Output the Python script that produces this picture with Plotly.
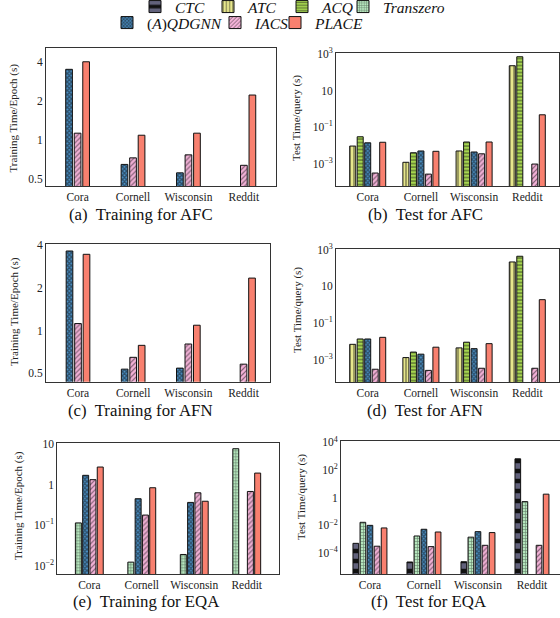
import plotly.graph_objects as go

datasets = ["Cora", "Cornell", "Wisconsin", "Reddit"]

# (a) Training for AFC
afc_train_qdgnn = [3.5, 0.65, 0.56, None]
afc_train_iacs = [1.13, 0.73, 0.77, 0.64]
afc_train_place = [4.0, 1.09, 1.13, 2.22]
# (b) Test for AFC
afc_test_atc = [0.0093, 0.0012, 0.005, 234]
afc_test_acq = [0.03, 0.004, 0.0155, 725]
afc_test_qdgnn = [0.014, 0.005, 0.0044, None]
afc_test_iacs = [0.00031, 0.00027, 0.0035, 0.00096]
afc_test_place = [0.015, 0.0048, 0.0155, 0.48]
# (c) Training for AFN
afn_train_qdgnn = [3.63, 0.535, 0.544, None]
afn_train_iacs = [1.12, 0.648, 0.804, 0.58]
afn_train_place = [3.44, 0.787, 1.09, 2.34]
# (d) Test for AFN
afn_test_atc = [0.0069, 0.0013, 0.0044, 218]
afn_test_acq = [0.0135, 0.0026, 0.009, 447]
afn_test_qdgnn = [0.0135, 0.002, 0.004, None]
afn_test_iacs = [0.0003, 0.00026, 0.00034, 0.00034]
afn_test_place = [0.0166, 0.0048, 0.0075, 1.9]
# (e) Training for EQA
eqa_train_transzero = [0.114, 0.0123, 0.019, 7.7]
eqa_train_qdgnn = [1.7, 0.45, 0.365, None]
eqa_train_iacs = [1.33, 0.178, 0.63, 0.68]
eqa_train_place = [2.72, 0.84, 0.39, 1.93]
# (f) Test for EQA
eqa_test_ctc = [0.0005, 0.0000224, 0.0000234, 650]
eqa_test_transzero = [0.0166, 0.0017, 0.0014, 0.52]
eqa_test_qdgnn = [0.01, 0.0052, 0.0035, None]
eqa_test_iacs = [0.00031, 0.00029, 0.00036, 0.00036]
eqa_test_place = [0.0065, 0.0033, 0.003, 1.8]

methods = ["CTC", "ATC", "ACQ", "Transzero", "(A)QDGNN", "IACS", "PLACE"]
legend_labels = {"CTC": "<i>CTC</i>", "ATC": "<i>ATC</i>", "ACQ": "<i>ACQ</i>",
                 "Transzero": "<i>Transzero</i>", "(A)QDGNN": "(<i>A</i>)<i>QDGNN</i>",
                 "IACS": "<i>IACS</i>", "PLACE": "<i>PLACE</i>"}

styles = {
    "CTC": dict(color="#b4b4e8", pattern=dict(shape="-", fgcolor="#b4b4e8", bgcolor="#111111", size=10, solidity=0.55)),
    "ATC": dict(color="#ffff99", pattern=dict(shape="|", fgcolor="#3a3a2a", bgcolor="#ffff99", size=4, solidity=0.62)),
    "ACQ": dict(color="#a6d64f", pattern=dict(shape="-", fgcolor="#1a1a1a", bgcolor="#a6d64f", size=3.5, solidity=0.4)),
    "Transzero": dict(color="#b5e6bd", pattern=dict(shape="+", fgcolor="#1a1a1a", bgcolor="#b5e6bd", size=3, solidity=0.35)),
    "(A)QDGNN": dict(color="#4a8fc4", pattern=dict(shape="x", fgcolor="#111111", bgcolor="#4a8fc4", size=3, solidity=0.68)),
    "IACS": dict(color="#f2b0d6", pattern=dict(shape="/", fgcolor="#1a1a1a", bgcolor="#f2b0d6", size=3.5, solidity=0.35)),
    "PLACE": dict(color="#f8806f", pattern=None),
}

W, H = 560, 618

def px(x):
    return x / W

def py(y):
    return 1 - y / H

panels = [
    ("", (46, 276), (48, 186), (-0.57, 3.58), (-0.353, 0.708), 0.154, 0.121,
     [("(A)QDGNN", afc_train_qdgnn), ("IACS", afc_train_iacs), ("PLACE", afc_train_place)],
     ([0.5, 1, 2, 4], ["0.5", "1", "2", "4"])),
    ("2", (336, 559), (53.3, 186), (-0.596, 3.596), (-4.22, 3.05), 0.141, 0.113,
     [("ATC", afc_test_atc), ("ACQ", afc_test_acq), ("(A)QDGNN", afc_test_qdgnn), ("IACS", afc_test_iacs), ("PLACE", afc_test_place)],
     ([1e-3, 1e-1, 10, 1e3], ["10<sup>−3</sup>", "10<sup>−1</sup>", "10", "10<sup>3</sup>"])),
    ("3", (46, 270), (244.3, 381.7), (-0.58, 3.48), (-0.36, 0.607), 0.154, 0.121,
     [("(A)QDGNN", afn_train_qdgnn), ("IACS", afn_train_iacs), ("PLACE", afn_train_place)],
     ([0.5, 1, 2, 4], ["0.5", "1", "2", "4"])),
    ("4", (336, 559), (249.3, 382), (-0.596, 3.596), (-4.22, 3.03), 0.141, 0.113,
     [("ATC", afn_test_atc), ("ACQ", afn_test_acq), ("(A)QDGNN", afn_test_qdgnn), ("IACS", afn_test_iacs), ("PLACE", afn_test_place)],
     ([1e-3, 1e-1, 10, 1e3], ["10<sup>−3</sup>", "10<sup>−1</sup>", "10", "10<sup>3</sup>"])),
    ("5", (57.3, 279), (443.3, 574.3), (-0.61, 3.615), (-2.21, 1.02), 0.139, 0.114,
     [("Transzero", eqa_train_transzero), ("(A)QDGNN", eqa_train_qdgnn), ("IACS", eqa_train_iacs), ("PLACE", eqa_train_place)],
     ([1e-2, 1e-1, 1, 10], ["10<sup>−2</sup>", "10<sup>−1</sup>", "1", "10"])),
    ("6", (341, 559.5), (441, 574.3), (-0.536, 3.51), (-5.54, 4.1), 0.131, 0.105,
     [("CTC", eqa_test_ctc), ("Transzero", eqa_test_transzero), ("(A)QDGNN", eqa_test_qdgnn), ("IACS", eqa_test_iacs), ("PLACE", eqa_test_place)],
     ([1e-4, 1e-2, 1, 1e2, 1e4], ["10<sup>−4</sup>", "10<sup>−2</sup>", "1", "10<sup>2</sup>", "10<sup>4</sup>"])),
]

legend_ids = {m: ("legend" if i == 0 else f"legend{i+1}") for i, m in enumerate(methods)}
shown = set()

fig = go.Figure()
font_family = "Liberation Serif, DejaVu Serif, serif"

for suffix, (x0, x1), (y0, y1), xr, yr, slot, bw, series, (tv, tt) in panels:
    n = len(series)
    for k, (name, vals) in enumerate(series):
        st = styles[name]
        marker = dict(color=st["color"], line=dict(color="#111111", width=1))
        if st["pattern"] is not None:
            marker["pattern"] = st["pattern"]
        off = (k - (n - 1) / 2) * slot - bw / 2
        fig.add_trace(go.Bar(
            x=datasets, y=vals, name=legend_labels[name], marker=marker,
            width=bw, offset=off,
            xaxis="x" + suffix, yaxis="y" + suffix,
            legend=legend_ids[name], legendgroup=name,
            showlegend=name not in shown,
        ))
        shown.add(name)
    xa = dict(domain=[px(x0), px(x1)], range=list(xr), type="category",
              anchor="y" + suffix, showline=True, mirror=True, linecolor="#333333",
              linewidth=1, showgrid=False, ticks="", zeroline=False,
              tickfont=dict(family=font_family, size=11.5, color="#222222"))
    ya = dict(domain=[py(y1), py(y0)], range=list(yr), type="log",
              anchor="x" + suffix, showline=True, mirror=True, linecolor="#333333",
              linewidth=1, showgrid=False, ticks="", zeroline=False,
              tickvals=tv, ticktext=tt,
              tickfont=dict(family=font_family, size=11.5, color="#222222"))
    fig.layout["xaxis" + suffix] = xa
    fig.layout["yaxis" + suffix] = ya

legend_pos = {
    "CTC": (135, 7), "ATC": (208, 7), "ACQ": (282, 7), "Transzero": (343, 7),
    "(A)QDGNN": (107, 23), "IACS": (215, 23), "PLACE": (275, 23),
}
for m in methods:
    lx, ly = legend_pos[m]
    fig.layout[legend_ids[m]] = dict(
        x=px(lx), y=py(ly), xanchor="left", yanchor="middle",
        orientation="h", bgcolor="rgba(0,0,0,0)", borderwidth=0,
        font=dict(family=font_family, size=15.5, color="#111111"),
        itemclick=False, itemdoubleclick=False, tracegroupgap=0,
    )

annotations = []
captions = [
    ("(a)  Training for AFC", 140.5, 215), ("(b)  Test for AFC", 425, 215),
    ("(c)  Training for AFN", 140.5, 410), ("(d)  Test for AFN", 425, 410),
    ("(e)  Training for EQA", 145.5, 601.7), ("(f)  Test for EQA", 428.5, 601.7),
]
for t, cx, cy in captions:
    annotations.append(dict(text=t, x=px(cx), y=py(cy), xref="paper", yref="paper",
                            showarrow=False, xanchor="center", yanchor="middle",
                            font=dict(family=font_family, size=16.8, color="#111111")))
ytitles = [
    ("Training Time/Epoch (s)", 13, 118.5), ("Test Time/query (s)", 296.5, 118.5),
    ("Training Time/Epoch (s)", 14, 312), ("Test Time/query (s)", 297, 310),
    ("Training Time/Epoch (s)", 18, 506), ("Test Time/query (s)", 301.5, 497.5),
]
for t, cx, cy in ytitles:
    annotations.append(dict(text=t, x=px(cx), y=py(cy), xref="paper", yref="paper",
                            showarrow=False, xanchor="center", yanchor="middle", textangle=-90,
                            font=dict(family=font_family, size=11, color="#222222")))

fig.update_layout(
    width=W, height=H, margin=dict(l=0, r=0, t=0, b=0, autoexpand=False),
    paper_bgcolor="white", plot_bgcolor="white",
    barmode="overlay", annotations=annotations,
    font=dict(family=font_family),
)

fig.write_html("out.html", config={"displayModeBar": False},
               post_script="document.body.style.margin='0px';")
